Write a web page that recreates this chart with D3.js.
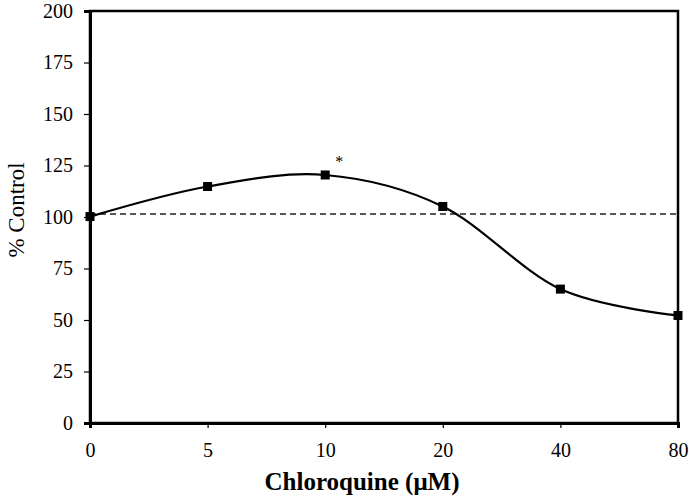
<!DOCTYPE html>
<html><head><meta charset="utf-8">
<script src="https://cdn.jsdelivr.net/npm/d3@7/dist/d3.min.js"></script>
<style>body{margin:0;background:#fff}</style>
</head><body><svg id="c" width="689" height="501"></svg>
<script>
const categories = ["0","5","10","20","40","80"];
const values = [100.2, 114.8, 120.4, 105.1, 65.0, 52.2];
const yTicks = [0,25,50,75,100,125,150,175,200];
const referenceLevel = 101.5;
const significant = ["10"];

const svg = d3.select("#c");
const m = {l:90, r:11, t:11, b:78};
const W = 689, H = 501;
const x = d3.scalePoint().domain(categories).range([m.l, W - m.r]);
const y = d3.scaleLinear().domain([0,200]).range([H - m.b, m.t]);
const font = "'Liberation Serif','Times New Roman',serif";

// frame
svg.append("rect").attr("x", m.l).attr("y", m.t)
  .attr("width", W - m.r - m.l).attr("height", H - m.b - m.t)
  .attr("fill","none").attr("stroke","#000").attr("stroke-width",2.5);

// y axis
const ya = svg.append("g").attr("transform",`translate(${m.l},0)`)
  .call(d3.axisLeft(y).tickValues(yTicks).tickSize(6).tickPadding(11));
ya.select(".domain").attr("stroke-width",3);
ya.selectAll(".tick line").attr("stroke-width",1.2);
ya.selectAll("text").attr("font-family",font).attr("font-size",20).attr("fill","#000");

// x axis
const xa = svg.append("g").attr("transform",`translate(0,${H - m.b})`)
  .call(d3.axisBottom(x).tickSize(5).tickPadding(15));
xa.select(".domain").attr("stroke-width",3);
xa.selectAll(".tick line").attr("stroke-width",1.2);
xa.selectAll("text").attr("font-family",font).attr("font-size",20).attr("fill","#000");

// reference dashed line
svg.append("line").attr("x1", m.l).attr("x2", W - m.r)
  .attr("y1", y(referenceLevel)).attr("y2", y(referenceLevel))
  .attr("stroke","#222").attr("stroke-width",1.5).attr("stroke-dasharray","6,4");

const data = categories.map((c,i)=>({c, v: values[i]}));
const line = d3.line().x(d=>x(d.c)).y(d=>y(d.v)).curve(d3.curveCardinal.tension(0));
svg.append("path").datum(data).attr("d", line)
  .attr("fill","none").attr("stroke","#000").attr("stroke-width",2.2);

svg.selectAll("rect.pt").data(data).enter().append("rect").attr("class","pt")
  .attr("x", d=>x(d.c)-4.5).attr("y", d=>y(d.v)-4.5)
  .attr("width",9).attr("height",9).attr("fill","#000");

// asterisk
svg.selectAll("text.sig").data(data.filter(d=>significant.includes(d.c))).enter()
  .append("text").attr("class","sig")
  .attr("x", d=>x(d.c)+14).attr("y", d=>y(d.v)-8)
  .attr("font-family",font).attr("font-size",16).attr("text-anchor","middle")
  .text("*");

// titles
svg.append("text").attr("x", 362).attr("y", 490)
  .attr("text-anchor","middle").attr("font-family",font).attr("font-weight","bold")
  .attr("font-size",25).text("Chloroquine (μM)");
svg.append("text").attr("transform",`translate(24,210) rotate(-90)`)
  .attr("text-anchor","middle").attr("font-family",font)
  .attr("font-size",23).text("% Control");
</script></body></html>
